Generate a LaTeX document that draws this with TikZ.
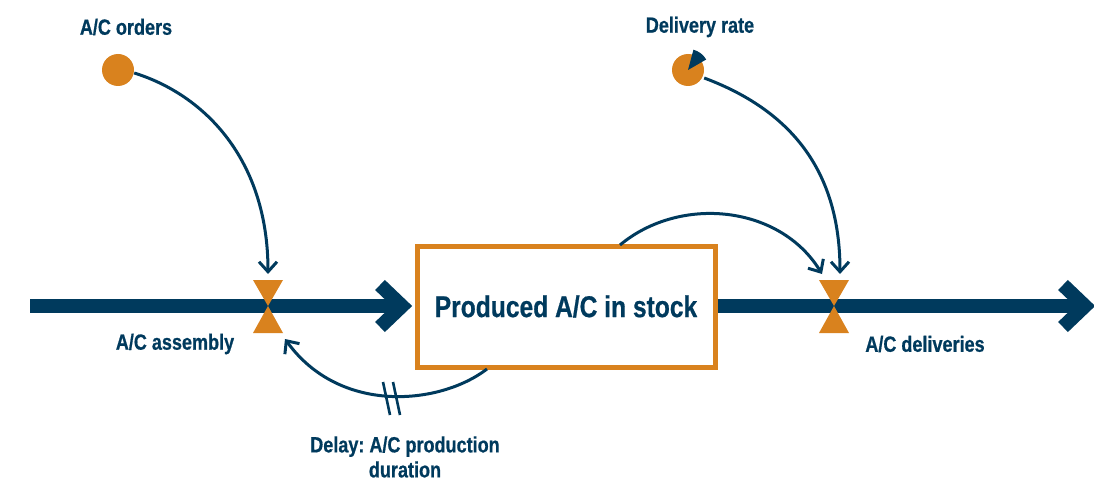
\documentclass[tikz,border=0pt]{standalone}
\usepackage{fontspec}
\setmainfont{Liberation Sans}[FakeStretch=0.82,FakeBold=0.6]
\usetikzlibrary{arrows.meta}
\definecolor{navy}{HTML}{003A5D}
\definecolor{amber}{HTML}{D9821E}
\frenchspacing
\tikzset{
  flow/.style={draw=navy,line width=14pt,line join=miter},
  link/.style={draw=navy,line width=3pt,-{Straight Barb[length=10pt,width=18pt,line width=3pt]}},
  lbl/.style={font=\bfseries\fontsize{22}{26}\selectfont,text=navy,inner sep=0pt},
}
\begin{document}
\begin{tikzpicture}[x=1pt,y=-1pt]
\useasboundingbox (0,0) rectangle (1094,481);
% flows
\draw[flow] (30,306) -- (404,306);
\draw[flow,line cap=butt] (380,285) -- (402,306) -- (380,327);
\draw[flow] (716,306) -- (1083,306);
\draw[flow] (1063,285) -- (1085,306) -- (1063,327);
% stock
\node[draw=amber,line width=5pt,fill=white,minimum width=298pt,minimum height=121pt,inner sep=0pt] (stock) at (566,306.5) {};
\node[font=\bfseries\fontsize{30}{34}\selectfont,text=navy,inner sep=0pt] (stocktxt) at (stock.center) {Produced A/C in stock};
% valves
\coordinate (v1) at (268,306);
\coordinate (v2) at (834,306);
\fill[amber] (253,280) -- (283,280) -- (268,306) -- cycle;
\fill[amber] (253,333) -- (283,333) -- (268,306) -- cycle;
\fill[amber] (819,280) -- (849,280) -- (834,306) -- cycle;
\fill[amber] (819,333) -- (849,333) -- (834,306) -- cycle;
\coordinate (v1top) at (268,274);
\coordinate (v1bot) at (285,339);
\coordinate (v2topa) at (822,274);
\coordinate (v2topb) at (840,274);
% auxiliaries
\node[circle,fill=amber,minimum size=32pt,inner sep=0pt] (orders) at (118,70) {};
\node[circle,fill=amber,minimum size=32pt,inner sep=0pt] (rate) at (688,70) {};
\fill[navy] (rate.center) -- ++(-75:21) arc[start angle=-75,end angle=-30,radius=21] -- cycle;
% labels
\node[lbl] (lorders) at (126,27) {A/C orders};
\node[lbl] (lrate) at (700,27) {Delivery rate};
\node[lbl] (lassembly) at (175,344) {A/C assembly};
\node[lbl] (ldeliv) at (925,344) {A/C deliveries};
\node[lbl,align=center] (ldelay) at (405,457) {Delay: A/C production\\[-1pt]duration};
% links
\draw[link] (orders.east) ++(0,3) .. controls (205,95) and (268,160) .. (v1top);
\draw[link] (rate.east) ++(0,8) .. controls (790,110) and (840,170) .. (v2topb);
\draw[link] (620,245) .. controls (680,195) and (780,205) .. (v2topa);
\draw[link] (487,369) .. controls (440,405) and (340,415) .. (v1bot);
\draw[navy,line width=2.6pt] (383,382) -- (390,415);
\draw[navy,line width=2.6pt] (393,382) -- (400,415);
\end{tikzpicture}
\end{document}
